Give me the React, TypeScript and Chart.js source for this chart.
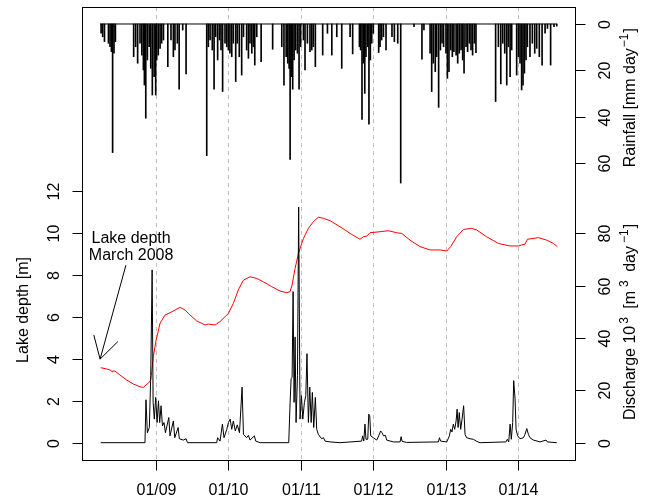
import React, { useEffect, useRef } from "react";
import { Chart, registerables } from "chart.js";

Chart.register(...registerables);

// x values are days since 2008-01-01
const yearTickDays = [366, 731, 1096, 1461, 1827, 2192];
const yearTickLabels = ["01/09", "01/10", "01/11", "01/12", "01/13", "01/14"];
const depthTicks = [0, 2, 4, 6, 8, 10, 12];
const dischargeTicks = [0, 20, 40, 60, 80];
const rainTicks = [0, 20, 40, 60];

const rainStartDay = 86;
const rainEndDay = 2386;

const rainDays = [
  91, 99, 108, 128, 136, 143, 149, 156, 163, 255, 265, 275, 287, 296, 304, 309, 316, 324, 333, 341,
  349, 358, 366, 371, 379, 388, 396, 405, 427, 443, 455, 463, 475, 484, 502, 519, 623, 631, 640, 651,
  660, 668, 678, 687, 695, 703, 715, 724, 732, 740, 749, 757, 769, 777, 787, 799, 808, 824, 833, 841,
  850, 858, 865, 875, 897, 955, 1001, 1012, 1023, 1031, 1038, 1043, 1049, 1056, 1063, 1071, 1080, 1088, 1096, 1110,
  1118, 1130, 1143, 1152, 1160, 1170, 1207, 1231, 1253, 1278, 1303, 1345, 1358, 1392, 1398, 1405, 1412, 1419, 1425, 1434,
  1440, 1447, 1454, 1462, 1489, 1496, 1504, 1513, 1526, 1556, 1568, 1585, 1600, 1667, 1707, 1717, 1748, 1756, 1764, 1774,
  1781, 1791, 1800, 1808, 1816, 1828, 1835, 1843, 1852, 1860, 1868, 1879, 1887, 1895, 1904, 1912, 1919, 1929, 1937, 1946,
  1954, 1962, 1971, 1979, 2078, 2092, 2104, 2114, 2124, 2134, 2142, 2151, 2159, 2184, 2193, 2201, 2209, 2216, 2223, 2231,
  2238, 2251, 2263, 2275, 2285, 2298, 2312, 2327, 2339, 2355, 2372, 2386,
];
const rainMm = [
  4.0, 5.5, 7.6, 8.3, 9.8, 11.9, 55.4, 12.6, 7.6, 14.1, 9.8, 16.9, 8.3, 13.4, 19.8, 26.3, 40.6, 15.5, 9.8, 19.1,
  30.6, 22.7, 30.6, 15.5, 13.4, 10.5, 8.3, 6.9, 18.4, 6.9, 14.1, 11.2, 8.3, 28.1, 2.6, 21.5, 56.7, 9.8, 6.9, 11.2,
  28.1, 5.5, 15.5, 6.9, 11.2, 29.1, 8.3, 9.8, 11.2, 12.6, 14.1, 8.3, 24.8, 8.3, 14.1, 22.0, 5.5, 11.2, 14.8, 8.3,
  12.6, 9.8, 17.7, 5.5, 16.2, 10.9, 9.8, 26.3, 14.1, 16.9, 19.1, 58.3, 22.7, 28.1, 15.5, 11.2, 12.6, 28.1, 9.8, 6.9,
  19.8, 8.3, 11.9, 11.2, 9.8, 18.4, 13.4, 4.0, 13.4, 5.5, 19.1, 5.5, 12.9, 9.8, 11.2, 41.1, 16.9, 29.9, 14.1, 9.8,
  43.2, 15.5, 8.3, 4.0, 12.3, 9.8, 6.9, 5.5, 11.2, 5.5, 7.6, 8.3, 68.5, 1.1, 15.2, 2.6, 12.6, 29.1, 16.9, 20.5,
  14.1, 35.9, 11.2, 8.3, 9.8, 12.6, 23.4, 20.5, 11.2, 14.1, 11.9, 13.4, 16.9, 12.6, 11.2, 15.5, 21.2, 9.8, 11.9, 8.3,
  11.2, 13.4, 8.3, 12.3, 33.4, 9.8, 25.8, 8.3, 12.6, 26.3, 9.8, 22.7, 11.2, 22.0, 14.1, 16.9, 28.4, 26.3, 21.2, 15.5,
  9.8, 14.1, 8.3, 12.6, 10.5, 14.1, 17.7, 4.0, 1.9, 17.7, 1.1, 0.9,
];

const dischargeDays = [
  89, 312, 317, 324, 334, 341, 348, 353, 359, 366, 373, 380, 386, 393, 400, 408, 415, 432, 438, 455,
  462, 479, 485, 505, 519, 526, 673, 678, 690, 702, 710, 724, 732, 741, 749, 757, 767, 777, 788, 801,
  808, 824, 833, 841, 863, 870, 892, 1036, 1043, 1048, 1053, 1058, 1063, 1068, 1073, 1080, 1086, 1093, 1100, 1107,
  1115, 1122, 1128, 1135, 1142, 1149, 1155, 1162, 1170, 1177, 1185, 1202, 1211, 1219, 1244, 1294, 1403, 1408, 1414, 1420,
  1425, 1434, 1439, 1444, 1449, 1462, 1479, 1489, 1499, 1506, 1513, 1523, 1529, 1563, 1597, 1602, 1607, 1630, 1790, 1795,
  1801, 1832, 1845, 1852, 1858, 1865, 1872, 1879, 1884, 1889, 1895, 1902, 1909, 1917, 1924, 1932, 1949, 1966, 1983, 2000,
  2130, 2137, 2144, 2151, 2157, 2164, 2169, 2176, 2181, 2189, 2201, 2218, 2226, 2235, 2243, 2251, 2268, 2302, 2332, 2339,
  2386,
];
const dischargeVals = [
  0, 0, 16.4, 3.8, 5.8, 25.6, 66, 15.4, 9, 17.3, 7.7, 16, 7.7, 14.1, 6.4, 7.7, 3.8, 9.6, 2.6, 8.3,
  1.9, 5.8, 1.5, 1.0, 1.5, 0, 0, 1.9, 0.6, 7.1, 1.9, 5.1, 7.7, 9.0, 5.1, 8.3, 4.5, 6.8, 3.8, 21.2,
  3.2, 1.9, 2.8, 1.0, 2.6, 0.6, 0, 0, 15.4, 24.4, 25, 57.7, 15.4, 40.4, 7.7, 25.6, 90, 9, 18, 9,
  15.4, 18, 34, 7.7, 21.2, 7.7, 19.2, 5.8, 17.3, 5.1, 3.2, 1.5, 1.9, 0.6, 0.3, 0, 0.6, 2.6, 0.6, 7.1,
  1.3, 1.3, 10.9, 10.3, 2.6, 1.9, 1.0, 2.6, 4.5, 3.8, 2.6, 2.8, 1.0, 0.3, 0.3, 2.3, 0.5, 0.1, 0.3, 1.9,
  0.6, 0.3, 2.6, 5.1, 4.1, 7.1, 5.1, 8.3, 12.8, 5.8, 11.5, 5.1, 9.0, 14.1, 3.2, 1.9, 1.5, 1.3, 0.5, 0,
  0.3, 1.3, 0.3, 7.1, 1.3, 7.7, 23.7, 16.7, 5.1, 2.6, 1.5, 1.9, 3.2, 5.4, 3.2, 1.9, 1.0, 0.3, 1.0, 0.3,
  0,
];

const depthDays = [
  89, 119, 141, 146, 149, 161, 186, 220, 254, 287, 304, 317, 331, 341, 346, 354, 368, 388, 413, 447,
  489, 514, 539, 573, 615, 631, 665, 690, 732, 757, 782, 808, 841, 875, 908, 950, 992, 1026, 1043, 1053,
  1068, 1085, 1110, 1135, 1160, 1185, 1211, 1244, 1294, 1345, 1395, 1412, 1429, 1445, 1496, 1538, 1580, 1605, 1647, 1697,
  1748, 1798, 1832, 1852, 1882, 1916, 1958, 1983, 2033, 2092, 2151, 2193, 2226, 2238, 2293, 2335, 2369, 2389,
];
const depthVals = [
  3.58, 3.52, 3.45, 3.38, 3.42, 3.42, 3.23, 2.99, 2.8, 2.67, 2.64, 2.75, 2.86, 2.99, 3.39, 4.1, 4.9, 5.7, 6.09, 6.25,
  6.46, 6.33, 6.09, 5.81, 5.62, 5.66, 5.62, 5.78, 6.17, 6.65, 7.29, 7.76, 7.92, 7.84, 7.68, 7.45, 7.24, 7.16, 7.21, 7.53,
  8.32, 9.04, 9.75, 10.23, 10.55, 10.76, 10.71, 10.6, 10.31, 9.99, 9.71, 9.83, 9.86, 10.02, 10.07, 10.12, 10.02, 9.99, 9.67, 9.36,
  9.2, 9.2, 9.15, 9.36, 9.83, 10.18, 10.23, 10.15, 9.83, 9.51, 9.39, 9.39, 9.48, 9.71, 9.79, 9.67, 9.51, 9.36,
];

const annotationLines = ["Lake depth", "March 2008"];

const FONT = '"Liberation Sans", Arial, Helvetica, sans-serif';
const MAIN = `16px ${FONT}`;
const SUP = `12px ${FONT}`;

type Seg = { t: string; sup?: boolean; gap?: number };

function drawRich(ctx: CanvasRenderingContext2D, x: number, y: number, segs: Seg[], angle: number) {
  ctx.save();
  ctx.translate(x, y);
  ctx.rotate(angle);
  let total = 0;
  for (const s of segs) {
    ctx.font = s.sup ? SUP : MAIN;
    total += ctx.measureText(s.t).width + (s.gap || 0) * 2;
  }
  let cur = -total / 2;
  ctx.textAlign = "left";
  ctx.textBaseline = "alphabetic";
  for (const s of segs) {
    ctx.font = s.sup ? SUP : MAIN;
    cur += s.gap || 0;
    ctx.fillText(s.t, cur, s.sup ? -7 : 0);
    cur += ctx.measureText(s.t).width + (s.gap || 0);
  }
  ctx.restore();
}

const axesPlugin = {
  id: "rAxes",
  beforeDatasetsDraw(chart: any) {
    const { ctx, chartArea, scales } = chart;
    ctx.save();
    ctx.strokeStyle = "#bebebe";
    ctx.lineWidth = 1;
    ctx.setLineDash([4, 4]);
    for (const d of yearTickDays) {
      const px = Math.round(scales.x.getPixelForValue(d)) + 0.5;
      ctx.beginPath();
      ctx.moveTo(px, chartArea.top);
      ctx.lineTo(px, chartArea.bottom);
      ctx.stroke();
    }
    ctx.restore();
  },
  afterDatasetsDraw(chart: any) {
    const { ctx, chartArea, scales } = chart;
    const { left, right, top, bottom } = chartArea;
    ctx.save();
    ctx.strokeStyle = "#000";
    ctx.fillStyle = "#000";
    ctx.lineWidth = 1;
    ctx.setLineDash([]);
    // box
    ctx.strokeRect(left + 0.5, top + 0.5, right - left, bottom - top);

    // bottom axis
    ctx.font = MAIN;
    ctx.textAlign = "center";
    ctx.textBaseline = "alphabetic";
    yearTickDays.forEach((d, i) => {
      const px = Math.round(scales.x.getPixelForValue(d)) + 0.5;
      ctx.beginPath();
      ctx.moveTo(px, bottom + 0.5);
      ctx.lineTo(px, bottom + 10.5);
      ctx.stroke();
      ctx.fillText(yearTickLabels[i], px, bottom + 35);
    });

    // left axis (depth)
    for (const v of depthTicks) {
      const py = Math.round(scales.y.getPixelForValue(v)) + 0.5;
      ctx.beginPath();
      ctx.moveTo(left + 0.5, py);
      ctx.lineTo(left - 9.5, py);
      ctx.stroke();
      drawRich(ctx, left - 23, py, [{ t: String(v) }], -Math.PI / 2);
    }
    // right axis (rain)
    for (const v of rainTicks) {
      const py = Math.round(scales.yR.getPixelForValue(v)) + 0.5;
      ctx.beginPath();
      ctx.moveTo(right + 0.5, py);
      ctx.lineTo(right + 10.5, py);
      ctx.stroke();
      drawRich(ctx, right + 35, py, [{ t: String(v) }], -Math.PI / 2);
    }
    // right axis (discharge)
    for (const v of dischargeTicks) {
      const py = Math.round(scales.yD.getPixelForValue(v)) + 0.5;
      ctx.beginPath();
      ctx.moveTo(right + 0.5, py);
      ctx.lineTo(right + 10.5, py);
      ctx.stroke();
      drawRich(ctx, right + 35, py, [{ t: String(v) }], -Math.PI / 2);
    }

    // titles
    const yMidDepth = (scales.y.getPixelForValue(0) + scales.y.getPixelForValue(12)) / 2;
    drawRich(ctx, 28, yMidDepth - 7, [{ t: "Lake depth [m]" }], -Math.PI / 2);
    drawRich(
      ctx,
      right + 60,
      (scales.yR.getPixelForValue(0) + scales.yR.getPixelForValue(60)) / 2 + 4,
      [{ t: "Rainfall [mm day" }, { t: "\u22121", sup: true, gap: 1 }, { t: "]" }],
      -Math.PI / 2
    );
    drawRich(
      ctx,
      right + 60,
      (scales.yD.getPixelForValue(0) + scales.yD.getPixelForValue(80)) / 2 - 16,
      [
        { t: "Discharge 10" },
        { t: "3", sup: true, gap: 2 },
        { t: " [m", gap: 2 },
        { t: "3", sup: true, gap: 2 },
        { t: " day", gap: 2 },
        { t: "\u22121", sup: true, gap: 1 },
        { t: "]" },
      ],
      -Math.PI / 2
    );

    // annotation
    const tx = scales.x.getPixelForValue(242);
    ctx.font = MAIN;
    ctx.textAlign = "center";
    ctx.textBaseline = "alphabetic";
    ctx.fillText(annotationLines[0], tx, scales.y.getPixelForValue(9.55));
    ctx.fillText(annotationLines[1], tx, scales.y.getPixelForValue(8.72));
    const ax0 = scales.x.getPixelForValue(216);
    const ay0 = scales.y.getPixelForValue(8.47);
    const ax1 = scales.x.getPixelForValue(86);
    const ay1 = scales.y.getPixelForValue(3.99);
    ctx.beginPath();
    ctx.moveTo(ax0, ay0);
    ctx.lineTo(ax1, ay1);
    const ang = Math.atan2(ay1 - ay0, ax1 - ax0);
    const hl = 25;
    const ha = Math.PI / 6;
    ctx.moveTo(ax1 - hl * Math.cos(ang - ha), ay1 - hl * Math.sin(ang - ha));
    ctx.lineTo(ax1, ay1);
    ctx.lineTo(ax1 - hl * Math.cos(ang + ha), ay1 - hl * Math.sin(ang + ha));
    ctx.stroke();
    ctx.restore();
  },
};

export default function App() {
  const ref = useRef<HTMLCanvasElement | null>(null);
  useEffect(() => {
    document.body.style.margin = "0";
    if (!ref.current) return;
    const rain = rainDays.map((d, i) => ({ x: d, y: rainMm[i] }));
    const discharge = dischargeDays.map((d, i) => ({ x: d, y: dischargeVals[i] }));
    const depth = depthDays.map((d, i) => ({ x: d, y: depthVals[i] }));
    const chart = new Chart(ref.current, {
      type: "line",
      data: {
        datasets: [
          {
            type: "line",
            label: "Discharge",
            data: discharge,
            yAxisID: "yD",
            borderColor: "#000",
            borderWidth: 1,
            pointRadius: 0,
            tension: 0,
          },
          {
            type: "line",
            label: "Lake depth",
            data: depth,
            yAxisID: "y",
            borderColor: "#ff0000",
            borderWidth: 1,
            pointRadius: 0,
            tension: 0,
          },
          {
            type: "bar",
            label: "Rainfall",
            data: rain,
            yAxisID: "yR",
            backgroundColor: "#000",
            borderWidth: 0,
            barThickness: 1,
            grouped: false,
          } as any,
          {
            type: "line",
            label: "Rainfall baseline",
            data: [
              { x: rainStartDay, y: 0 },
              { x: rainEndDay, y: 0 },
            ],
            yAxisID: "yR",
            borderColor: "#000",
            borderWidth: 1,
            pointRadius: 0,
          },
        ],
      },
      options: {
        responsive: false,
        devicePixelRatio: 1,
        animation: false,
        layout: { padding: { left: 82, right: 74, top: 7, bottom: 40 } },
        plugins: { legend: { display: false }, tooltip: { enabled: false } },
        scales: {
          x: { type: "linear", min: -5.2, max: 2477.8, display: false, offset: false },
          y: { type: "linear", min: -0.826, max: 20.797, display: false },
          yD: { type: "linear", min: -6.61, max: 166.4, display: false },
          yR: { type: "linear", min: -7.32, max: 187.8, reverse: true, display: false },
        },
      },
      plugins: [axesPlugin],
    } as any);
    return () => chart.destroy();
  }, []);
  return (
    <div style={{ width: 649, height: 500 }}>
      <canvas ref={ref} width={649} height={500} style={{ display: "block" }} />
    </div>
  );
}
